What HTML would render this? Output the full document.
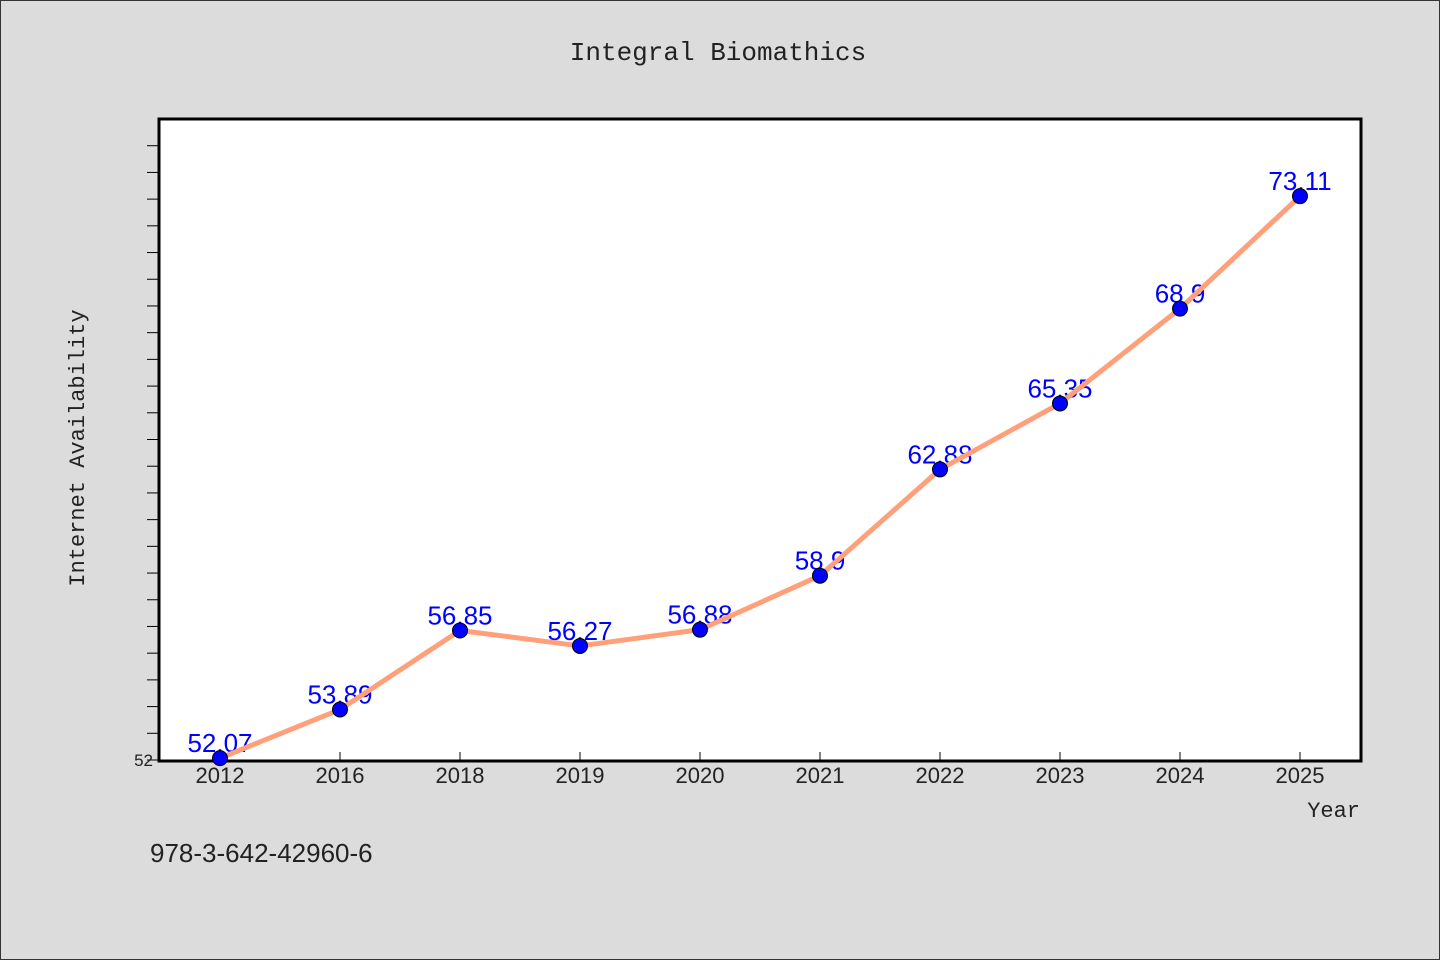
<!DOCTYPE html>
<html><head><meta charset="utf-8"><style>
html,body{margin:0;padding:0;background:#dcdcdc;}
svg{display:block;font-family:"Liberation Mono","WenQuanYi Zen Hei",monospace;}
</style></head><body>
<svg width="1440" height="960" id="c">
<rect x="0.5" y="0.5" width="1439" height="959" fill="#dcdcdc" stroke="#333"/>
<text x="718" y="60" text-anchor="middle" font-size="26" fill="#222">Integral Biomathics</text>
<rect x="159" y="119" width="1202" height="642" fill="#fff" stroke="#000" stroke-width="3"/>
<text transform="translate(84,448) rotate(-90)" text-anchor="middle" font-size="22" fill="#222">Internet Availability</text>
<text x="1360" y="817" text-anchor="end" font-size="22" fill="#222">Year</text>
<text x="150" y="862" font-size="26" fill="#222" font-family="Liberation Sans, sans-serif">978-3-642-42960-6</text>
<g id="ticks"></g><g id="labels"></g><g id="series"></g>
</svg>
<script>
const categories=["2012","2016","2018","2019","2020","2021","2022","2023","2024","2025"];
const values=[52.07,53.89,56.85,56.27,56.88,58.9,62.88,65.35,68.9,73.11];
const valueLabels=["52.07","53.89","56.85","56.27","56.88","58.9","62.88","65.35","68.9","73.11"];
const yMin=52,yMax=76,yStep=1;
const NS="http://www.w3.org/2000/svg";
const x0=160,bw=120,yTop=119,yBot=760;
function xs(i){return x0+bw*(i+0.5);}
function ys(v){return yBot-(v-yMin)/(yMax-yMin)*(yBot-yTop);}
function mk(t,a,p){const e=document.createElementNS(NS,t);for(const k in a)e.setAttribute(k,a[k]);p.appendChild(e);return e;}
const tg=document.getElementById('ticks'),lg=document.getElementById('labels'),sg=document.getElementById('series');
for(let v=yMin;v<yMax;v+=yStep){const y=ys(v);
const t=mk('line',{x1:147,x2:159,y1:y,y2:y,stroke:'#000','stroke-width':1},tg);

}
const yl=mk('text',{x:153,y:ys(yMin)+6,'text-anchor':'end','font-size':17,fill:'#222','font-family':'Liberation Sans, sans-serif'},tg);
yl.textContent=String(yMin);


categories.forEach((c,i)=>{const x=xs(i);
const t=mk('line',{x1:x,x2:x,y1:752,y2:760,stroke:'#000','stroke-width':1},tg);


const l=mk('text',{x:x,y:783,'text-anchor':'middle','font-size':22,fill:'#222','font-family':'Liberation Sans, sans-serif'},tg);
l.textContent=c;


const vl=mk('text',{x:x,y:ys(values[i])-6,'text-anchor':'middle','font-size':26,fill:'#0000ff','font-family':'Liberation Sans, sans-serif'},lg);
vl.textContent=valueLabels[i];

});
const pl=mk('polyline',{points:values.map((v,i)=>xs(i)+','+ys(v)).join(' '),fill:'none',stroke:'#ffa07a','stroke-width':5,'stroke-linejoin':'round'},sg);


values.forEach((v,i)=>{const p=mk('circle',{cx:xs(i),cy:ys(v),r:7.5,fill:'#0000ff',stroke:'#000','stroke-width':1},sg);

});
</script>
</body></html>
